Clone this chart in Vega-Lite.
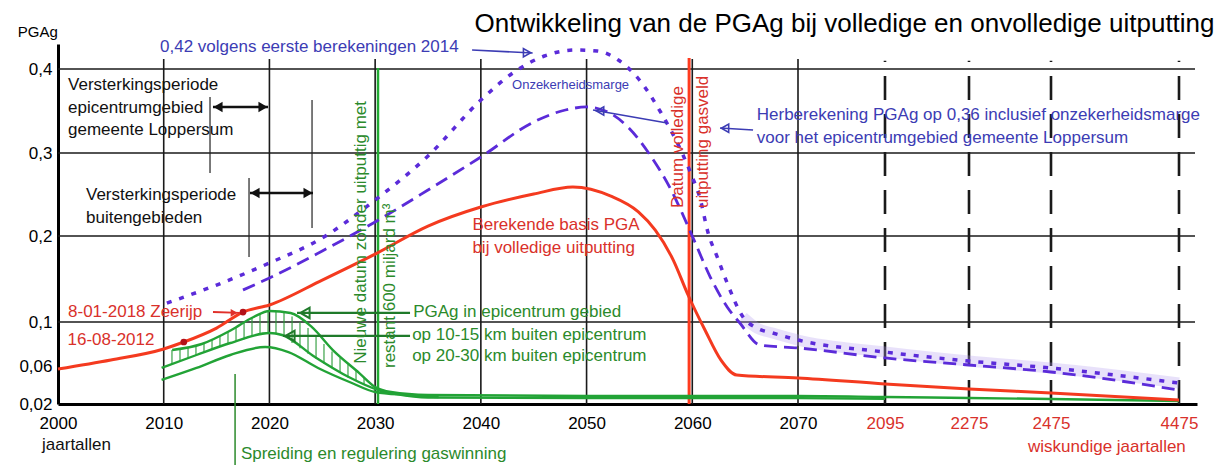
{
  "$schema": "https://vega.github.io/schema/vega-lite/v6.json",
  "autosize": {"type": "none"},
  "padding": {"left": 58, "top": 0, "right": 0, "bottom": 62},
  "width": 1162,
  "height": 404,
  "background": "white",
  "config": {"view": {"stroke": null}, "font": "Liberation Sans"},
  "datasets": {
    "curves": [
      {"reeks": "basis", "jaar": 2000, "pga": 0.0568},
      {"reeks": "basis", "jaar": 2005, "pga": 0.0655},
      {"reeks": "basis", "jaar": 2010, "pga": 0.0755},
      {"reeks": "basis", "jaar": 2011.9, "pga": 0.0818},
      {"reeks": "basis", "jaar": 2015, "pga": 0.0945},
      {"reeks": "basis", "jaar": 2017.5, "pga": 0.1116},
      {"reeks": "basis", "jaar": 2020, "pga": 0.1198},
      {"reeks": "basis", "jaar": 2025, "pga": 0.1488},
      {"reeks": "basis", "jaar": 2030, "pga": 0.179},
      {"reeks": "basis", "jaar": 2035, "pga": 0.212},
      {"reeks": "basis", "jaar": 2040, "pga": 0.235},
      {"reeks": "basis", "jaar": 2045, "pga": 0.2506},
      {"reeks": "basis", "jaar": 2048.7, "pga": 0.259},
      {"reeks": "basis", "jaar": 2052.3, "pga": 0.248},
      {"reeks": "basis", "jaar": 2054.9, "pga": 0.229},
      {"reeks": "basis", "jaar": 2056.5, "pga": 0.207},
      {"reeks": "basis", "jaar": 2058.2, "pga": 0.172},
      {"reeks": "basis", "jaar": 2059.6, "pga": 0.1314},
      {"reeks": "basis", "jaar": 2061.2, "pga": 0.0927},
      {"reeks": "basis", "jaar": 2062.7, "pga": 0.0655},
      {"reeks": "basis", "jaar": 2064.2, "pga": 0.0505},
      {"reeks": "basis", "jaar": 2070, "pga": 0.0474},
      {"reeks": "basis", "jaar": 2095, "pga": 0.0411},
      {"reeks": "basis", "jaar": 2275, "pga": 0.0358},
      {"reeks": "basis", "jaar": 2475, "pga": 0.0316},
      {"reeks": "basis", "jaar": 4475, "pga": 0.0242},

      {"reeks": "eerste 2014", "jaar": 2010.3, "pga": 0.122},
      {"reeks": "eerste 2014", "jaar": 2015, "pga": 0.143},
      {"reeks": "eerste 2014", "jaar": 2020, "pga": 0.1686},
      {"reeks": "eerste 2014", "jaar": 2025, "pga": 0.1977},
      {"reeks": "eerste 2014", "jaar": 2030, "pga": 0.2434},
      {"reeks": "eerste 2014", "jaar": 2035, "pga": 0.2964},
      {"reeks": "eerste 2014", "jaar": 2040, "pga": 0.363},
      {"reeks": "eerste 2014", "jaar": 2043, "pga": 0.395},
      {"reeks": "eerste 2014", "jaar": 2046, "pga": 0.4156},
      {"reeks": "eerste 2014", "jaar": 2049, "pga": 0.4228},
      {"reeks": "eerste 2014", "jaar": 2051, "pga": 0.4216},
      {"reeks": "eerste 2014", "jaar": 2053, "pga": 0.4108},
      {"reeks": "eerste 2014", "jaar": 2055, "pga": 0.3869},
      {"reeks": "eerste 2014", "jaar": 2057, "pga": 0.3488},
      {"reeks": "eerste 2014", "jaar": 2059, "pga": 0.301},
      {"reeks": "eerste 2014", "jaar": 2060, "pga": 0.271},
      {"reeks": "eerste 2014", "jaar": 2060.7, "pga": 0.247},
      {"reeks": "eerste 2014", "jaar": 2061.5, "pga": 0.2036},
      {"reeks": "eerste 2014", "jaar": 2062.4, "pga": 0.1744},
      {"reeks": "eerste 2014", "jaar": 2063.3, "pga": 0.1453},
      {"reeks": "eerste 2014", "jaar": 2064.8, "pga": 0.1058},
      {"reeks": "eerste 2014", "jaar": 2066.1, "pga": 0.0945},
      {"reeks": "eerste 2014", "jaar": 2067.6, "pga": 0.09},
      {"reeks": "eerste 2014", "jaar": 2070, "pga": 0.0836},
      {"reeks": "eerste 2014", "jaar": 2095, "pga": 0.0727},
      {"reeks": "eerste 2014", "jaar": 2275, "pga": 0.0645},
      {"reeks": "eerste 2014", "jaar": 2475, "pga": 0.0579},
      {"reeks": "eerste 2014", "jaar": 4475, "pga": 0.0421},

      {"reeks": "herberekening", "jaar": 2017.5, "pga": 0.1372},
      {"reeks": "herberekening", "jaar": 2020, "pga": 0.1512},
      {"reeks": "herberekening", "jaar": 2025, "pga": 0.1826},
      {"reeks": "herberekening", "jaar": 2030, "pga": 0.2169},
      {"reeks": "herberekening", "jaar": 2035, "pga": 0.2554},
      {"reeks": "herberekening", "jaar": 2040, "pga": 0.2952},
      {"reeks": "herberekening", "jaar": 2045, "pga": 0.3369},
      {"reeks": "herberekening", "jaar": 2048, "pga": 0.3512},
      {"reeks": "herberekening", "jaar": 2050, "pga": 0.3548},
      {"reeks": "herberekening", "jaar": 2052, "pga": 0.3488},
      {"reeks": "herberekening", "jaar": 2054, "pga": 0.3298},
      {"reeks": "herberekening", "jaar": 2056, "pga": 0.2976},
      {"reeks": "herberekening", "jaar": 2058, "pga": 0.2554},
      {"reeks": "herberekening", "jaar": 2060, "pga": 0.2},
      {"reeks": "herberekening", "jaar": 2061.7, "pga": 0.1523},
      {"reeks": "herberekening", "jaar": 2063.3, "pga": 0.1174},
      {"reeks": "herberekening", "jaar": 2064.5, "pga": 0.0991},
      {"reeks": "herberekening", "jaar": 2066.4, "pga": 0.0791},
      {"reeks": "herberekening", "jaar": 2070, "pga": 0.0764},
      {"reeks": "herberekening", "jaar": 2095, "pga": 0.0673},
      {"reeks": "herberekening", "jaar": 2275, "pga": 0.0609},
      {"reeks": "herberekening", "jaar": 2475, "pga": 0.0537},
      {"reeks": "herberekening", "jaar": 4475, "pga": 0.0347},

      {"reeks": "epicentrum", "jaar": 2010.8, "pga": 0.0745},
      {"reeks": "epicentrum", "jaar": 2013.6, "pga": 0.08},
      {"reeks": "epicentrum", "jaar": 2016.4, "pga": 0.0927},
      {"reeks": "epicentrum", "jaar": 2018.5, "pga": 0.1058},
      {"reeks": "epicentrum", "jaar": 2020, "pga": 0.1128},
      {"reeks": "epicentrum", "jaar": 2022, "pga": 0.1105},
      {"reeks": "epicentrum", "jaar": 2024, "pga": 0.0955},
      {"reeks": "epicentrum", "jaar": 2026, "pga": 0.0745},
      {"reeks": "epicentrum", "jaar": 2028.5, "pga": 0.0526},
      {"reeks": "epicentrum", "jaar": 2030, "pga": 0.0379},
      {"reeks": "epicentrum", "jaar": 2031.5, "pga": 0.0326},
      {"reeks": "epicentrum", "jaar": 2035, "pga": 0.0295},
      {"reeks": "epicentrum", "jaar": 2050, "pga": 0.0284},
      {"reeks": "epicentrum", "jaar": 2070, "pga": 0.0284},
      {"reeks": "epicentrum", "jaar": 2095, "pga": 0.0274},
      {"reeks": "epicentrum", "jaar": 2275, "pga": 0.0263},
      {"reeks": "epicentrum", "jaar": 2475, "pga": 0.0253},
      {"reeks": "epicentrum", "jaar": 4475, "pga": 0.0232},

      {"reeks": "10-15 km", "jaar": 2009.8, "pga": 0.0579},
      {"reeks": "10-15 km", "jaar": 2013.1, "pga": 0.07},
      {"reeks": "10-15 km", "jaar": 2016.3, "pga": 0.0809},
      {"reeks": "10-15 km", "jaar": 2020, "pga": 0.09},
      {"reeks": "10-15 km", "jaar": 2021.2, "pga": 0.0882},
      {"reeks": "10-15 km", "jaar": 2024.3, "pga": 0.0682},
      {"reeks": "10-15 km", "jaar": 2027.5, "pga": 0.0484},
      {"reeks": "10-15 km", "jaar": 2030.3, "pga": 0.0347},
      {"reeks": "10-15 km", "jaar": 2032, "pga": 0.0305},
      {"reeks": "10-15 km", "jaar": 2035, "pga": 0.0268},
      {"reeks": "10-15 km", "jaar": 2050, "pga": 0.0262},
      {"reeks": "10-15 km", "jaar": 2070, "pga": 0.0262},
      {"reeks": "10-15 km", "jaar": 2095, "pga": 0.0255},

      {"reeks": "20-30 km", "jaar": 2009.8, "pga": 0.0453},
      {"reeks": "20-30 km", "jaar": 2013.1, "pga": 0.0579},
      {"reeks": "20-30 km", "jaar": 2016.3, "pga": 0.07},
      {"reeks": "20-30 km", "jaar": 2019.6, "pga": 0.0773},
      {"reeks": "20-30 km", "jaar": 2021.8, "pga": 0.0727},
      {"reeks": "20-30 km", "jaar": 2024.6, "pga": 0.0579},
      {"reeks": "20-30 km", "jaar": 2027.8, "pga": 0.0421},
      {"reeks": "20-30 km", "jaar": 2030, "pga": 0.0326},
      {"reeks": "20-30 km", "jaar": 2033, "pga": 0.0295},
      {"reeks": "20-30 km", "jaar": 2036, "pga": 0.0274}
    ],
    "hatch": [
      {"jaar": 2010.78, "pga": 0.0615, "pga2": 0.0745},
      {"jaar": 2011.54, "pga": 0.0643, "pga2": 0.076},
      {"jaar": 2012.3, "pga": 0.067, "pga2": 0.0775},
      {"jaar": 2013.05, "pga": 0.0696, "pga2": 0.0789},
      {"jaar": 2013.81, "pga": 0.0723, "pga2": 0.0809},
      {"jaar": 2014.57, "pga": 0.075, "pga2": 0.0844},
      {"jaar": 2015.32, "pga": 0.0776, "pga2": 0.0878},
      {"jaar": 2016.08, "pga": 0.0803, "pga2": 0.0915},
      {"jaar": 2016.84, "pga": 0.0824, "pga2": 0.0955},
      {"jaar": 2017.6, "pga": 0.0844, "pga2": 0.0997},
      {"jaar": 2018.35, "pga": 0.0863, "pga2": 0.1051},
      {"jaar": 2019.11, "pga": 0.0883, "pga2": 0.1093},
      {"jaar": 2019.87, "pga": 0.0898, "pga2": 0.1127},
      {"jaar": 2020.62, "pga": 0.0887, "pga2": 0.1116},
      {"jaar": 2021.38, "pga": 0.0866, "pga2": 0.1108},
      {"jaar": 2022.14, "pga": 0.0809, "pga2": 0.1064},
      {"jaar": 2022.89, "pga": 0.0761, "pga2": 0.0999},
      {"jaar": 2023.65, "pga": 0.0712, "pga2": 0.0945},
      {"jaar": 2024.41, "pga": 0.0665, "pga2": 0.0873},
      {"jaar": 2025.16, "pga": 0.0623, "pga2": 0.08},
      {"jaar": 2025.92, "pga": 0.0577, "pga2": 0.0731},
      {"jaar": 2026.68, "pga": 0.0527, "pga2": 0.0674},
      {"jaar": 2027.43, "pga": 0.048, "pga2": 0.0615},
      {"jaar": 2028.19, "pga": 0.0443, "pga2": 0.0552},
      {"jaar": 2028.95, "pga": 0.0406, "pga2": 0.0485}
    ],
    "vgrid": [
      {"jaar": 2010, "pga": 0.02, "pga2": 0.412, "soort": "jaartal"},
      {"jaar": 2020, "pga": 0.02, "pga2": 0.412, "soort": "jaartal"},
      {"jaar": 2030, "pga": 0.02, "pga2": 0.412, "soort": "jaartal"},
      {"jaar": 2040, "pga": 0.02, "pga2": 0.412, "soort": "jaartal"},
      {"jaar": 2050, "pga": 0.02, "pga2": 0.412, "soort": "jaartal"},
      {"jaar": 2060, "pga": 0.02, "pga2": 0.412, "soort": "jaartal"},
      {"jaar": 2070, "pga": 0.02, "pga2": 0.412, "soort": "jaartal"},
      {"jaar": 2095, "pga": 0.02, "pga2": 0.41, "soort": "wiskundig"},
      {"jaar": 2275, "pga": 0.02, "pga2": 0.41, "soort": "wiskundig"},
      {"jaar": 2475, "pga": 0.02, "pga2": 0.41, "soort": "wiskundig"},
      {"jaar": 4475, "pga": 0.02, "pga2": 0.41, "soort": "wiskundig"}
    ],
    "hgrid": [
      {"jaar": 2000, "jaar2": 4720, "pga": 0.1},
      {"jaar": 2000, "jaar2": 4720, "pga": 0.2},
      {"jaar": 2000, "jaar2": 4720, "pga": 0.3},
      {"jaar": 2000, "jaar2": 4720, "pga": 0.4}
    ],
    "markers": [
      {"reeks": "nieuwe datum", "jaar": 2030.27, "pga": 0.02, "pga2": 0.4012},
      {"reeks": "volledige uitputting", "jaar": 2059.7, "pga": 0.02, "pga2": 0.4132}
    ],
    "dots": [
      {"datum": "16-08-2012", "jaar": 2011.9, "pga": 0.0818},
      {"datum": "8-01-2018", "jaar": 2017.5, "pga": 0.1116}
    ],
    "thin": [
      {"groep": "zwart", "jaar": 2014.38, "pga": 0.2759, "pga2": 0.3667},
      {"groep": "zwart", "jaar": 2024.03, "pga": 0.2096, "pga2": 0.3631},
      {"groep": "zwart", "jaar": 2018.07, "pga": 0.1756, "pga2": 0.2699},
      {"groep": "groen", "jaar": 2016.75, "pga": -0.0442, "pga2": 0.0516}
    ],
    "arrows": [
      {"groep": "blauw", "jaar": 2039.17, "pga": 0.4228, "jaar2": 2044.9, "pga2": 0.4192},
      {"groep": "blauw", "jaar": 2057.62, "pga": 0.3357, "jaar2": 2050.61, "pga2": 0.3512},
      {"groep": "blauw", "jaar": 2065.75, "pga": 0.3274, "jaar2": 2062.63, "pga2": 0.3298},
      {"groep": "rood", "jaar": 2014.66, "pga": 0.1116, "jaar2": 2017.22, "pga2": 0.1105},
      {"groep": "groen", "jaar": 2033.3, "pga": 0.1105, "jaar2": 2022.61, "pga2": 0.1105},
      {"groep": "groen", "jaar": 2033.3, "pga": 0.0873, "jaar2": 2021.29, "pga2": 0.0873},
      {"groep": "zwart", "jaar": 2014.66, "pga": 0.3548, "jaar2": 2019.87, "pga2": 0.3548},
      {"groep": "zwart", "jaar": 2018.16, "pga": 0.2518, "jaar2": 2024.12, "pga2": 0.2518}
    ],
    "heads": [
      {"groep": "blauw", "jaar": 2044.37, "pga": 0.4195, "richting": "rechts"},
      {"groep": "blauw", "jaar": 2051.28, "pga": 0.35, "richting": "links"},
      {"groep": "blauw", "jaar": 2063.1, "pga": 0.3295, "richting": "links"},
      {"groep": "rood", "jaar": 2016.65, "pga": 0.1107, "richting": "rechts"},
      {"groep": "groen", "jaar": 2023.37, "pga": 0.1105, "richting": "links"},
      {"groep": "groen", "jaar": 2021.95, "pga": 0.0873, "richting": "links"},
      {"groep": "zwart", "jaar": 2015.14, "pga": 0.3548, "richting": "links"},
      {"groep": "zwart", "jaar": 2019.39, "pga": 0.3548, "richting": "rechts"},
      {"groep": "zwart", "jaar": 2018.64, "pga": 0.2518, "richting": "links"},
      {"groep": "zwart", "jaar": 2023.65, "pga": 0.2518, "richting": "rechts"}
    ],
    "texts": [
      {"groep": "titel", "tekst": "Ontwikkeling van de PGAg bij volledige en onvolledige uitputting", "jaar": 2039.4, "pga": 0.454},
      {"groep": "as", "tekst": "PGAg", "jaar": 1996.2, "pga": 0.4444},
      {"groep": "zwart", "tekst": "Versterkingsperiode", "jaar": 2000.95, "pga": 0.381},
      {"groep": "zwart", "tekst": "epicentrumgebied", "jaar": 2000.95, "pga": 0.3536},
      {"groep": "zwart", "tekst": "gemeente Loppersum", "jaar": 2000.95, "pga": 0.3274},
      {"groep": "zwart", "tekst": "Versterkingsperiode", "jaar": 2002.65, "pga": 0.2494},
      {"groep": "zwart", "tekst": "buitengebieden", "jaar": 2002.65, "pga": 0.2217},
      {"groep": "zwart", "tekst": "jaartallen", "jaar": 1998.49, "pga": -0.0232},
      {"groep": "blauw", "tekst": "0,42 volgens eerste berekeningen 2014", "jaar": 2009.65, "pga": 0.4264},
      {"groep": "blauw", "tekst": "Herberekening PGAg op 0,36 inclusief onzekerheidsmarge", "jaar": 2066.1, "pga": 0.3452},
      {"groep": "blauw", "tekst": "voor het epicentrumgebied gemeente Loppersum", "jaar": 2066.1, "pga": 0.3179},
      {"groep": "blauwklein", "tekst": "Onzekerheidsmarge", "jaar": 2042.95, "pga": 0.381},
      {"groep": "rood", "tekst": "8-01-2018 Zeerijp", "jaar": 2000.95, "pga": 0.1116},
      {"groep": "rood", "tekst": "16-08-2012", "jaar": 2000.9, "pga": 0.0836},
      {"groep": "rood", "tekst": "Berekende basis PGA", "jaar": 2039.2, "pga": 0.2133},
      {"groep": "rood", "tekst": "bij volledige uitputting", "jaar": 2039.2, "pga": 0.186},
      {"groep": "rood", "tekst": "wiskundige jaartallen", "jaar": 2418.9, "pga": -0.0253},
      {"groep": "groen", "tekst": "PGAg in epicentrum gebied", "jaar": 2033.6, "pga": 0.1116},
      {"groep": "groen", "tekst": "op 10-15 km buiten epicentrum", "jaar": 2033.5, "pga": 0.0882},
      {"groep": "groen", "tekst": "op 20-30 km buiten epicentrum", "jaar": 2033.5, "pga": 0.0691},
      {"groep": "groen", "tekst": "Spreiding en regulering gaswinning", "jaar": 2017.3, "pga": -0.0326},
      {"groep": "groenverticaal", "tekst": "Nieuwe datum zonder uitputtig met", "jaar": 2028.67, "pga": 0.0621},
      {"groep": "groenverticaal", "tekst": "restant 600 miljard m³", "jaar": 2031.41, "pga": 0.0579},
      {"groep": "roodverticaal", "tekst": "Datum volledige", "jaar": 2058.66, "pga": 0.2337},
      {"groep": "roodverticaal", "tekst": "uitputting gasveld", "jaar": 2061.02, "pga": 0.2337}
    ]
  },
  "encoding": {
    "x": {
      "field": "jaar", "type": "quantitative",
      "scale": {"type": "linear", "domain": [2000, 2070, 2095, 2275, 2475, 4475, 4750], "range": [0, 740, 827, 911, 993, 1121, 1139], "nice": false, "zero": false},
      "axis": {
        "title": null, "values": [2000, 2010, 2020, 2030, 2040, 2050, 2060, 2070, 2095, 2275, 2475, 4475],
        "format": "d", "grid": false, "ticks": false, "domainWidth": 3, "domainColor": "black",
        "labelFontSize": 17, "labelFont": "Liberation Sans", "labelPadding": 11, "labelFlush": false, "labelOverlap": false,
        "labelColor": {"condition": {"test": "datum.value > 2070", "value": "#d9312b"}, "value": "black"}
      }
    },
    "y": {
      "field": "pga", "type": "quantitative",
      "scale": {"type": "linear", "domain": [0.02, 0.06, 0.1, 0.2, 0.3, 0.4, 0.43], "range": [404, 366, 322, 236, 153, 69, 44], "nice": false, "zero": false},
      "axis": {
        "title": null, "values": [0.02, 0.06, 0.1, 0.2, 0.3, 0.4],
        "labelExpr": "replace(toString(datum.value), '.', ',')",
        "grid": false, "ticks": false, "domainWidth": 3, "domainColor": "black",
        "labelFontSize": 17, "labelFont": "Liberation Sans", "labelPadding": 6, "labelFlush": false, "labelOverlap": false, "labelColor": "black"
      }
    }
  },
  "layer": [
    {
      "data": {"name": "hgrid"},
      "mark": {"type": "rule", "color": "#1a1a1a", "strokeWidth": 1.6},
      "encoding": {"x2": {"field": "jaar2"}}
    },
    {
      "data": {"name": "vgrid"},
      "mark": {"type": "rule", "color": "#1a1a1a"},
      "encoding": {
        "y2": {"field": "pga2"},
        "strokeDash": {"field": "soort", "type": "nominal", "scale": {"domain": ["jaartal", "wiskundig"], "range": [[1, 0], [24, 14]]}, "legend": null},
        "strokeWidth": {"field": "soort", "type": "nominal", "scale": {"domain": ["jaartal", "wiskundig"], "range": [1.6, 2.6]}, "legend": null}
      }
    },
    {
      "data": {"name": "thin"},
      "transform": [{"filter": "datum.groep == 'zwart'"}],
      "mark": {"type": "rule", "color": "#222222", "strokeWidth": 1.2},
      "encoding": {"y2": {"field": "pga2"}}
    },
    {
      "data": {"name": "thin"},
      "transform": [{"filter": "datum.groep == 'groen'"}],
      "mark": {"type": "rule", "color": "#2b8a2b", "strokeWidth": 1.5},
      "encoding": {"y2": {"field": "pga2"}}
    },
    {
      "data": {"name": "markers"},
      "transform": [{"filter": "datum.reeks == 'nieuwe datum'"}],
      "mark": {"type": "rule", "color": "#22aa33", "strokeWidth": 2.5},
      "encoding": {"y2": {"field": "pga2"}}
    },
    {
      "data": {"name": "markers"},
      "transform": [{"filter": "datum.reeks == 'volledige uitputting'"}],
      "mark": {"type": "rule", "color": "#ff3b1f", "strokeWidth": 3},
      "encoding": {"y2": {"field": "pga2"}}
    },
    {
      "data": {"name": "curves"},
      "transform": [{"filter": "datum.reeks == 'eerste 2014' && datum.jaar >= 2064"}],
      "mark": {"type": "line", "color": "#b49cf0", "strokeWidth": 11, "opacity": 0.3, "interpolate": "monotone"},
      "encoding": {}
    },
    {
      "data": {"name": "hatch"},
      "mark": {"type": "rule", "color": "#2a9a38", "strokeWidth": 1.3, "opacity": 0.85},
      "encoding": {"y2": {"field": "pga2"}}
    },
    {
      "data": {"name": "curves"},
      "transform": [{"filter": "datum.reeks == '20-30 km' || datum.reeks == '10-15 km' || datum.reeks == 'epicentrum'"}],
      "mark": {"type": "line", "color": "#22a336", "strokeWidth": 2.4, "interpolate": "monotone"},
      "encoding": {"detail": {"field": "reeks"}}
    },
    {
      "data": {"name": "curves"},
      "transform": [{"filter": "datum.reeks == 'eerste 2014'"}],
      "mark": {"type": "line", "color": "#5b2bd9", "strokeWidth": 3.5, "strokeDash": [5, 8], "interpolate": "monotone"},
      "encoding": {}
    },
    {
      "data": {"name": "curves"},
      "transform": [{"filter": "datum.reeks == 'herberekening'"}],
      "mark": {"type": "line", "color": "#5b2bd9", "strokeWidth": 2.8, "strokeDash": [13, 7], "interpolate": "monotone"},
      "encoding": {}
    },
    {
      "data": {"name": "curves"},
      "transform": [{"filter": "datum.reeks == 'basis'"}],
      "mark": {"type": "line", "color": "#f43a1f", "strokeWidth": 3, "interpolate": "monotone"},
      "encoding": {}
    },
    {
      "data": {"name": "dots"},
      "mark": {"type": "circle", "color": "#b3121a", "size": 45, "opacity": 1},
      "encoding": {}
    },
    {
      "data": {"name": "arrows"},
      "transform": [{"filter": "datum.groep == 'blauw'"}],
      "mark": {"type": "rule", "color": "#3c3cb4", "strokeWidth": 1.6},
      "encoding": {"x2": {"field": "jaar2"}, "y2": {"field": "pga2"}}
    },
    {
      "data": {"name": "arrows"},
      "transform": [{"filter": "datum.groep == 'rood'"}],
      "mark": {"type": "rule", "color": "#e0302a", "strokeWidth": 1.8},
      "encoding": {"x2": {"field": "jaar2"}, "y2": {"field": "pga2"}}
    },
    {
      "data": {"name": "arrows"},
      "transform": [{"filter": "datum.groep == 'groen'"}],
      "mark": {"type": "rule", "color": "#1f7a2a", "strokeWidth": 2.2},
      "encoding": {"x2": {"field": "jaar2"}, "y2": {"field": "pga2"}}
    },
    {
      "data": {"name": "arrows"},
      "transform": [{"filter": "datum.groep == 'zwart'"}],
      "mark": {"type": "rule", "color": "#111111", "strokeWidth": 2.5},
      "encoding": {"x2": {"field": "jaar2"}, "y2": {"field": "pga2"}}
    },
    {
      "data": {"name": "heads"},
      "transform": [{"filter": "datum.groep == 'blauw'"}],
      "mark": {"type": "point", "color": "#3c3cb4", "filled": false, "strokeWidth": 1.6, "size": 70, "opacity": 1},
      "encoding": {"shape": {"field": "richting", "type": "nominal", "scale": {"domain": ["links", "rechts"], "range": ["triangle-left", "triangle-right"]}, "legend": null}}
    },
    {
      "data": {"name": "heads"},
      "transform": [{"filter": "datum.groep == 'groen'"}],
      "mark": {"type": "point", "color": "#1f7a2a", "filled": false, "strokeWidth": 2, "size": 110, "opacity": 1},
      "encoding": {"shape": {"field": "richting", "type": "nominal", "scale": {"domain": ["links", "rechts"], "range": ["triangle-left", "triangle-right"]}, "legend": null}}
    },
    {
      "data": {"name": "heads"},
      "transform": [{"filter": "datum.groep == 'rood'"}],
      "mark": {"type": "point", "color": "#e0302a", "filled": true, "size": 60, "opacity": 1},
      "encoding": {"shape": {"field": "richting", "type": "nominal", "scale": {"domain": ["links", "rechts"], "range": ["triangle-left", "triangle-right"]}, "legend": null}}
    },
    {
      "data": {"name": "heads"},
      "transform": [{"filter": "datum.groep == 'zwart'"}],
      "mark": {"type": "point", "color": "#111111", "filled": true, "size": 110, "opacity": 1},
      "encoding": {"shape": {"field": "richting", "type": "nominal", "scale": {"domain": ["links", "rechts"], "range": ["triangle-left", "triangle-right"]}, "legend": null}}
    },
    {
      "data": {"name": "texts"},
      "transform": [{"filter": "datum.groep == 'titel'"}],
      "mark": {"type": "text", "align": "left", "baseline": "middle", "fontSize": 26, "color": "black", "font": "Liberation Sans"},
      "encoding": {"text": {"field": "tekst"}}
    },
    {
      "data": {"name": "texts"},
      "transform": [{"filter": "datum.groep == 'as'"}],
      "mark": {"type": "text", "align": "left", "baseline": "middle", "fontSize": 15, "color": "black", "font": "Liberation Sans"},
      "encoding": {"text": {"field": "tekst"}}
    },
    {
      "data": {"name": "texts"},
      "transform": [{"filter": "datum.groep == 'zwart'"}],
      "mark": {"type": "text", "align": "left", "baseline": "middle", "fontSize": 17, "color": "#111111", "font": "Liberation Sans"},
      "encoding": {"text": {"field": "tekst"}}
    },
    {
      "data": {"name": "texts"},
      "transform": [{"filter": "datum.groep == 'blauw'"}],
      "mark": {"type": "text", "align": "left", "baseline": "middle", "fontSize": 17, "color": "#3c3cb4", "font": "Liberation Sans"},
      "encoding": {"text": {"field": "tekst"}}
    },
    {
      "data": {"name": "texts"},
      "transform": [{"filter": "datum.groep == 'blauwklein'"}],
      "mark": {"type": "text", "align": "left", "baseline": "middle", "fontSize": 13, "color": "#3c3cb4", "font": "Liberation Sans"},
      "encoding": {"text": {"field": "tekst"}}
    },
    {
      "data": {"name": "texts"},
      "transform": [{"filter": "datum.groep == 'rood'"}],
      "mark": {"type": "text", "align": "left", "baseline": "middle", "fontSize": 17, "color": "#d9312b", "font": "Liberation Sans"},
      "encoding": {"text": {"field": "tekst"}}
    },
    {
      "data": {"name": "texts"},
      "transform": [{"filter": "datum.groep == 'groen'"}],
      "mark": {"type": "text", "align": "left", "baseline": "middle", "fontSize": 17, "color": "#2b8a2b", "font": "Liberation Sans"},
      "encoding": {"text": {"field": "tekst"}}
    },
    {
      "data": {"name": "texts"},
      "transform": [{"filter": "datum.groep == 'groenverticaal'"}],
      "mark": {"type": "text", "align": "left", "baseline": "middle", "angle": 270, "fontSize": 17, "color": "#2b8a2b", "font": "Liberation Sans"},
      "encoding": {"text": {"field": "tekst"}}
    },
    {
      "data": {"name": "texts"},
      "transform": [{"filter": "datum.groep == 'roodverticaal'"}],
      "mark": {"type": "text", "align": "left", "baseline": "middle", "angle": 270, "fontSize": 17, "color": "#d9312b", "font": "Liberation Sans"},
      "encoding": {"text": {"field": "tekst"}}
    }
  ]
}
